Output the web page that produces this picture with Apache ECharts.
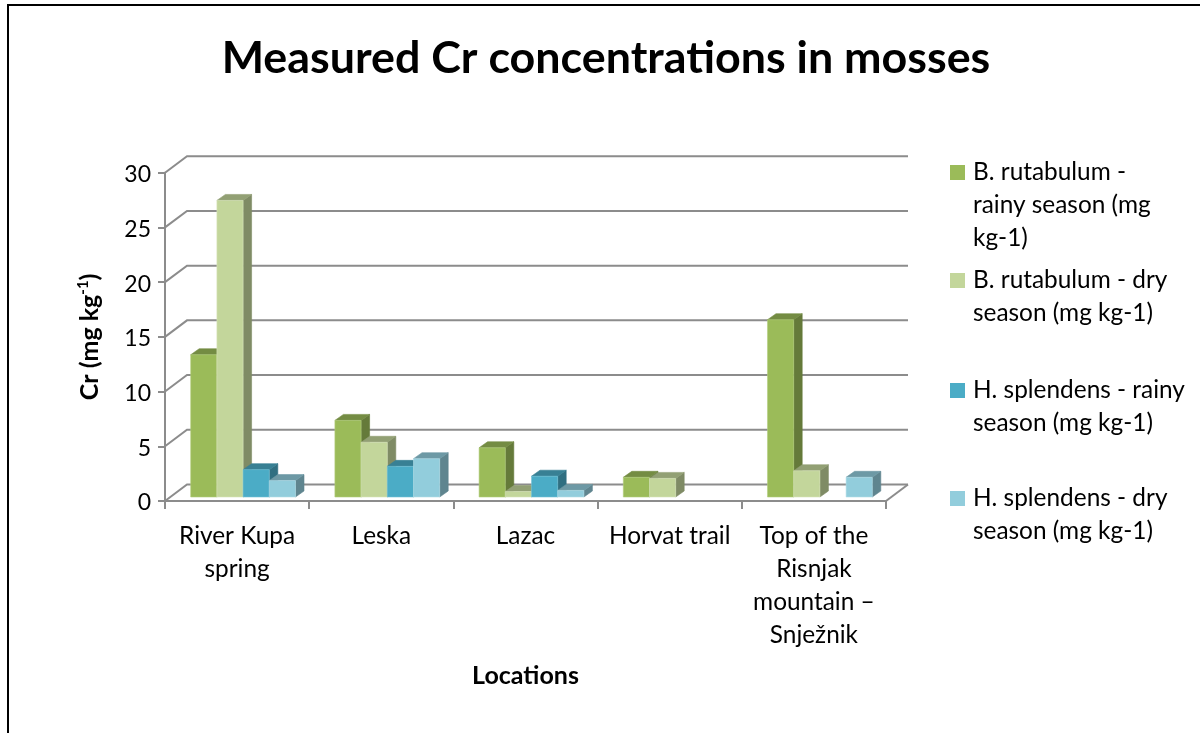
<!DOCTYPE html>
<html><head><meta charset="utf-8">
<style>html,body{margin:0;padding:0;background:#fff}#c{width:1200px;height:733px}</style>
<script src="https://cdn.jsdelivr.net/npm/echarts@6/dist/echarts.min.js"></script>
</head><body><div id="c"></div>
<script>
const titleText = 'Measured Cr concentrations in mosses';
const categories = ['River Kupa\nspring', 'Leska', 'Lazac', 'Horvat trail', 'Top of the\nRisnjak\nmountain \u2013\nSnje\u017enik'];
const rutabulumRainy = [13, 7, 4.5, 1.8, 16.2];
const rutabulumDry = [27.1, 5, 0.5, 1.7, 2.4];
const splendensRainy = [2.5, 2.8, 1.9, null, null];
const splendensDry = [1.5, 3.5, 0.6, null, 1.8];
const wallTicks = [0, 5, 10, 15, 20, 25, 30];
const seriesNames = ['B. rutabulum - rainy season (mg kg-1)', 'B. rutabulum - dry season (mg kg-1)', 'H. splendens - rainy season (mg kg-1)', 'H. splendens - dry season (mg kg-1)'];
const legendWrapped = ['B. rutabulum -\nrainy season (mg\nkg-1)', 'B. rutabulum - dry\nseason (mg kg-1)', 'H. splendens - rainy\nseason (mg kg-1)', 'H. splendens - dry\nseason (mg kg-1)'];
const seriesValues = [rutabulumRainy, rutabulumDry, splendensRainy, splendensDry];
const faces = [
  {front:'#9BBB59', top:'#748C43', side:'#657A3A', edge:'#B4CE7E'},
  {front:'#C3D69B', top:'#92A074', side:'#7F8B65', edge:'#D6E4BA'},
  {front:'#4BACC6', top:'#388094', side:'#306F81', edge:'#74C2D6'},
  {front:'#92CDDC', top:'#6D99A5', side:'#5F858F', edge:'#B2DDE8'}
];
const FONT = 'Lato';
const DEPTH_X = 22, DEPTH_Y = 16.5;
const BAR_FRONT_X = 6, BAR_FRONT_Y = 4, BAR_D_X = 8.5, BAR_D_Y = 6, BAR_SHARE = 0.1817;

function poly(points, fill, edge) {
  return {type:'polygon', shape:{points}, style:{fill, stroke:edge||fill, lineWidth:0.6}};
}
function barRenderer(i) {
  const f = faces[i];
  return function (params, api) {
    const v = api.value(1);
    if (v == null || isNaN(v)) return null;
    const c = api.value(0);
    const w0 = api.coord([c, 0]), wv = api.coord([c, v]);
    const cw = api.size([1, 0])[0], bw = cw * BAR_SHARE;
    const x0 = w0[0] + (i - 2) * bw + BAR_FRONT_X, x1 = x0 + bw;
    const yb = w0[1] - BAR_FRONT_Y, yt = wv[1] - BAR_FRONT_Y;
    return {type:'group', children:[
      poly([[x1,yt],[x1+BAR_D_X,yt-BAR_D_Y],[x1+BAR_D_X,yb-BAR_D_Y],[x1,yb]], f.side),
      poly([[x0,yt],[x0+BAR_D_X,yt-BAR_D_Y],[x1+BAR_D_X,yt-BAR_D_Y],[x1,yt]], f.top),
      poly([[x0,yt],[x1,yt],[x1,yb],[x0,yb]], f.front, f.edge)
    ]};
  };
}
function wallRenderer(params, api) {
  const cs = params.coordSys, v = api.value(0);
  const y = api.coord([0, v])[1], l = cs.x, r = cs.x + cs.width;
  const st = {stroke:'#8C8C8C', lineWidth:2, fill:'none'};
  const ch = [{type:'polyline', shape:{points:[[l,y],[l+DEPTH_X,y-DEPTH_Y],[r+DEPTH_X,y-DEPTH_Y]]}, style:st}];
  if (v === 0) ch.push({type:'line', shape:{x1:r,y1:y,x2:r+DEPTH_X,y2:y-DEPTH_Y}, style:st});
  return {type:'group', children:ch};
}
const legendTops = [156, 264, 374, 482];
const legends = seriesNames.map((n, i) => ({
  data:[n], orient:'vertical', left:950, top:legendTops[i]-(legendWrapped[i].split('\n').length-1)*33,
  selectedMode:false, icon:'rect', itemWidth:15, itemHeight:15, itemGap:0, padding:0,
  formatter:() => '\n'.repeat(legendWrapped[i].split('\n').length-1) + legendWrapped[i],
  textStyle:{fontFamily:FONT, fontSize:24.4, lineHeight:33, color:'#000', padding:[0,0,0,3]}
}));
const option = {
  backgroundColor:'#fff', animation:false,
  title:{text:titleText, left:601, top:31, textAlign:'center', textStyle:{fontFamily:FONT, fontWeight:'bold', fontSize:44.8, color:'#000'}},
  legend:legends,
  grid:{left:165, top:172.7, width:721, height:328.3},
  xAxis:{type:'category', data:categories,
    name:'Locations', nameLocation:'middle', nameGap:162,
    nameTextStyle:{fontFamily:FONT, fontWeight:'bold', fontSize:25, color:'#000'},
    axisLine:{lineStyle:{color:'#8C8C8C', width:2}},
    axisTick:{show:true, alignWithLabel:false, length:8, lineStyle:{color:'#8C8C8C', width:2}},
    axisLabel:{fontFamily:FONT, fontSize:24.4, lineHeight:33, color:'#000', margin:19, interval:0}
  },
  yAxis:{type:'value', min:0, max:30, interval:5,
    name:'{a|Cr (mg kg}{s|-1}{a|)}', nameLocation:'middle', nameGap:61, nameRotate:90,
    nameTextStyle:{rich:{a:{fontFamily:FONT, fontWeight:'bold', fontSize:25, color:'#000', lineHeight:28},
      s:{fontFamily:FONT, fontWeight:'bold', fontSize:15, color:'#000', verticalAlign:'top', lineHeight:18}}},
    axisLine:{show:true, lineStyle:{color:'#8C8C8C', width:2}},
    axisTick:{show:true, length:7, lineStyle:{color:'#8C8C8C', width:2}},
    splitLine:{show:false},
    axisLabel:{fontFamily:FONT, fontSize:23, color:'#000', margin:14, verticalAlign:'top', lineHeight:4}
  },
  graphic:[{type:'polyline', shape:{points:[[8,733],[8,5],[1200,5]]}, style:{stroke:'#000', lineWidth:2, fill:'none'}, silent:true}],
  series:[
    {type:'custom', name:'walls', coordinateSystem:'cartesian2d', renderItem:wallRenderer, data:wallTicks.map(v=>[v]), encode:{y:0}, silent:true, z:1}
  ].concat(seriesNames.map((n,i)=>({
    type:'custom', name:n, coordinateSystem:'cartesian2d', renderItem:barRenderer(i),
    itemStyle:{color:faces[i].front}, encode:{x:0,y:1}, z:3+i,
    data:seriesValues[i].map((v,c)=>[c,v])
  })))
};
echarts.init(document.getElementById('c'), null, {renderer:'canvas'}).setOption(option);
</script></body></html>
